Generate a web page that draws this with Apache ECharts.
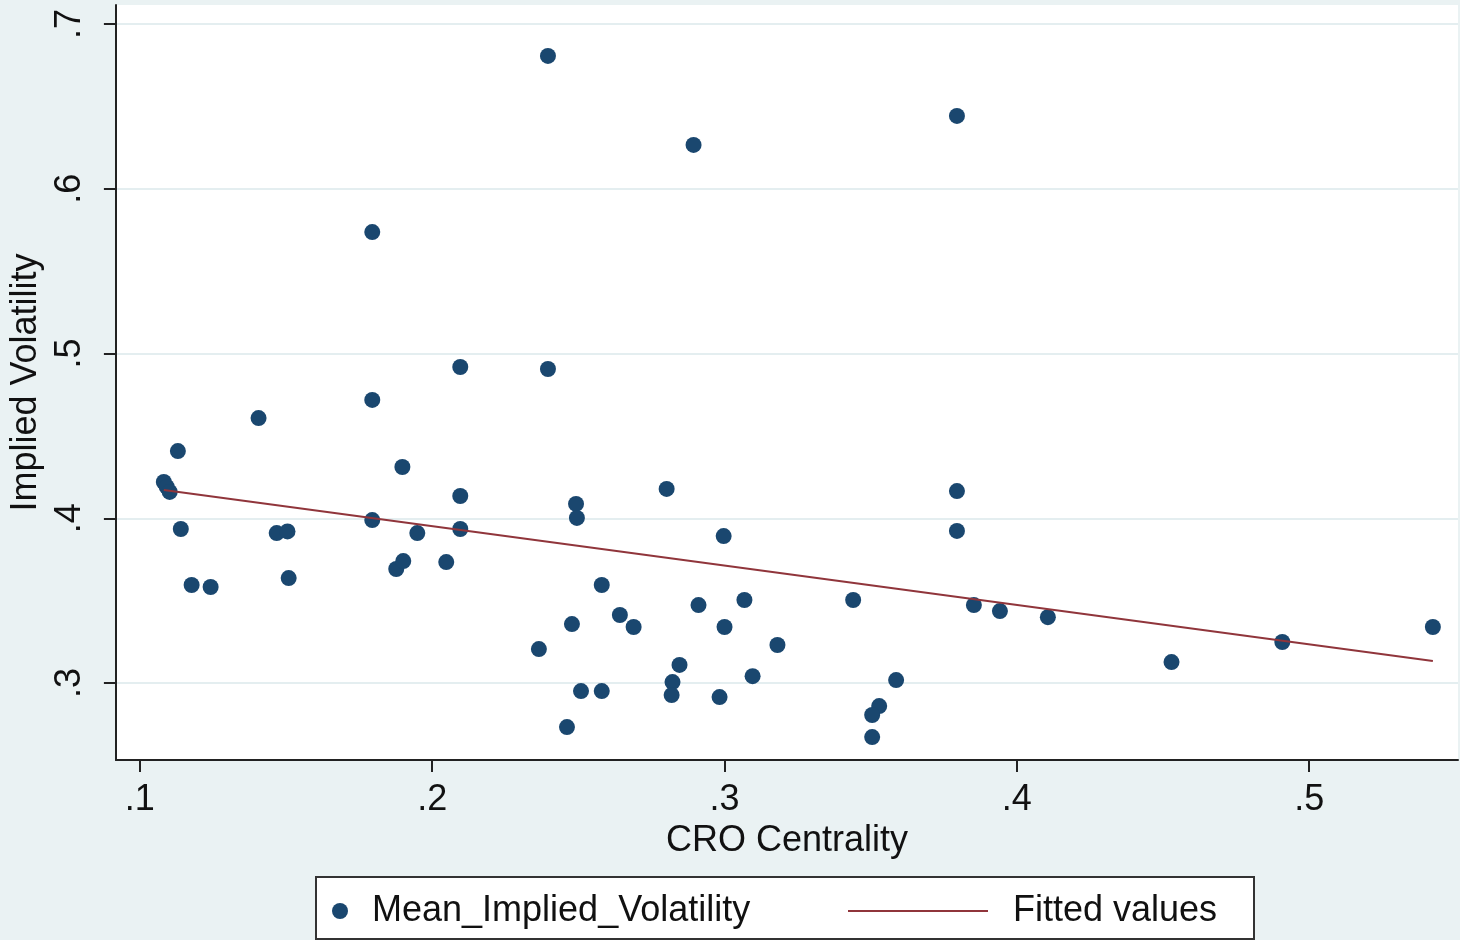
<!DOCTYPE html>
<html>
<head>
<meta charset="utf-8">
<script src="https://cdn.jsdelivr.net/npm/echarts@6/dist/echarts.min.js"></script>
<style>
html,body{margin:0;padding:0;background:#eaf2f3;}
#chart{width:1460px;height:940px;}
</style>
</head>
<body>
<div id="chart"></div>
<script>
// CRO Centrality (x) and Mean Implied Volatility (y)
const centrality = [
  0.2396, 0.2894, 0.3795, 0.1795, 0.2096, 0.2396, 0.1406, 0.1795, 0.1130, 0.1898,
  0.1082, 0.1092, 0.1102, 0.2096, 0.2802, 0.3795, 0.2492, 0.2495, 0.1795, 0.1140,
  0.2096, 0.3795, 0.1468, 0.1505, 0.1949, 0.2997, 0.2048, 0.1509, 0.1877, 0.1901,
  0.1177, 0.1242, 0.2580, 0.2642, 0.2689, 0.2478, 0.2365, 0.2509, 0.2580, 0.2461,
  0.2911, 0.3068, 0.3000, 0.3181, 0.2846, 0.2822, 0.2819, 0.2983, 0.3096, 0.3440,
  0.3587, 0.3529, 0.3505, 0.3505, 0.3853, 0.3942, 0.4106, 0.4529, 0.4908, 0.5423
];
const impliedVol = [
  0.6806, 0.6266, 0.6442, 0.5737, 0.4918, 0.4906, 0.4608, 0.4718, 0.4408, 0.4311,
  0.4220, 0.4190, 0.4160, 0.4135, 0.4178, 0.4165, 0.4087, 0.4002, 0.3989, 0.3935,
  0.3935, 0.3923, 0.3910, 0.3920, 0.3910, 0.3892, 0.3734, 0.3637, 0.3692, 0.3740,
  0.3595, 0.3583, 0.3595, 0.3413, 0.3340, 0.3358, 0.3206, 0.2951, 0.2951, 0.2733,
  0.3473, 0.3504, 0.3340, 0.3231, 0.3110, 0.3006, 0.2927, 0.2915, 0.3042, 0.3504,
  0.3018, 0.2860, 0.2806, 0.2672, 0.3473, 0.3437, 0.3400, 0.3127, 0.3249, 0.3340
];
// Fitted values line endpoints
const fitX = [0.1082, 0.5423];
const fitY = [0.4171, 0.3134];
// Tick labels
const xTicks = [0.1, 0.2, 0.3, 0.4, 0.5];
const yTicks = [0.3, 0.4, 0.5, 0.6, 0.7];
const seriesNames = ['Mean_Implied_Volatility', 'Fitted values'];

const FONT = 'Liberation Sans, Arial, sans-serif';
const fmt = v => String(v).replace(/^0/, '');

const scatterData = centrality.map((x, i) => [x, impliedVol[i]]);
const fitData = fitX.map((x, i) => [x, fitY[i]]);

const chart = echarts.init(document.getElementById('chart'), null, {renderer: 'canvas'});
chart.setOption({
  backgroundColor: '#eaf2f3',
  animation: false,
  textStyle: {fontFamily: FONT},
  grid: {
    left: 115, right: 2, top: 5, bottom: 180,
    show: true, backgroundColor: '#ffffff', borderWidth: 0, containLabel: false
  },
  xAxis: {
    type: 'value',
    min: 0.0918, max: 0.5509,
    name: 'CRO Centrality',
    nameLocation: 'middle',
    nameGap: 56,
    nameTextStyle: {fontSize: 36, color: '#111', fontFamily: FONT},
    axisLine: {show: true, onZero: false, lineStyle: {color: '#222', width: 2}},
    axisTick: {show: true, length: 12, customValues: xTicks, lineStyle: {color: '#222', width: 2}},
    axisLabel: {customValues: xTicks, formatter: fmt, fontSize: 36, color: '#111', margin: 22, fontFamily: FONT},
    splitLine: {show: false}
  },
  yAxis: {
    type: 'value',
    min: 0.2533, max: 0.7115,
    name: 'Implied Volatility',
    nameLocation: 'middle',
    nameGap: 70,
    nameRotate: 90,
    nameTextStyle: {fontSize: 36, color: '#111', fontFamily: FONT},
    axisLine: {show: true, onZero: false, lineStyle: {color: '#222', width: 2}},
    axisTick: {show: true, length: 12, customValues: yTicks, lineStyle: {color: '#222', width: 2}},
    axisLabel: {customValues: yTicks, formatter: fmt, rotate: 90, fontSize: 36, color: '#111', margin: 28, fontFamily: FONT},
    splitLine: {show: true, lineStyle: {color: '#e4eef0', width: 2}}
  },
  legend: [
    {
      data: [{name: seriesNames[0], icon: 'circle'}],
      left: 332, top: 893, padding: 0,
      itemWidth: 16, itemHeight: 16,
      textStyle: {fontSize: 36, color: '#111', fontFamily: FONT, padding: [0, 0, 0, 19]}
    },
    {
      data: [{name: seriesNames[1], icon: 'rect'}],
      left: 848, top: 893, padding: 0,
      itemWidth: 140, itemHeight: 2,
      itemStyle: {color: '#90353b'},
      textStyle: {fontSize: 36, color: '#111', fontFamily: FONT, padding: [0, 0, 0, 20]}
    }
  ],
  graphic: [{
    type: 'rect', z: -1, silent: true,
    shape: {x: 316, y: 877, width: 938, height: 62},
    style: {fill: '#ffffff', stroke: '#333', lineWidth: 2}
  }],
  series: [
    {
      name: seriesNames[0],
      type: 'scatter',
      data: scatterData,
      symbol: 'circle',
      symbolSize: 16,
      itemStyle: {color: '#1a476f', opacity: 1},
      z: 2
    },
    {
      name: seriesNames[1],
      type: 'line',
      data: fitData,
      showSymbol: false,
      symbol: 'none',
      lineStyle: {color: '#90353b', width: 2},
      itemStyle: {color: '#90353b'},
      z: 3
    }
  ]
});
</script>
</body>
</html>
